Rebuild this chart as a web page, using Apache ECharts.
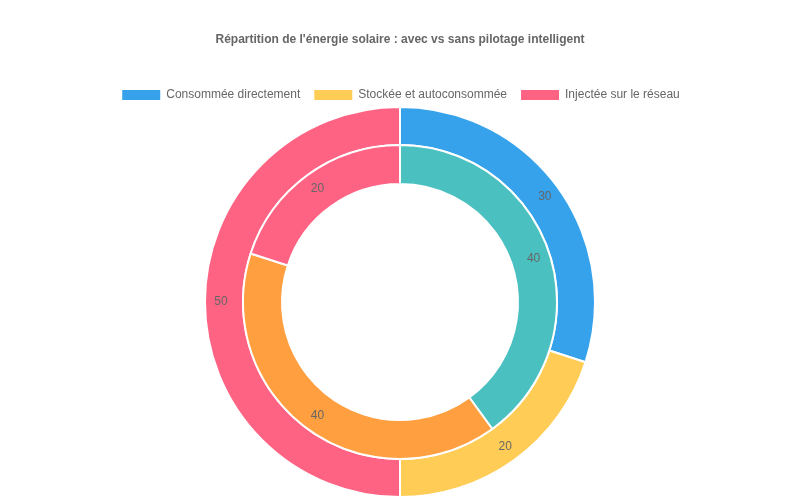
<!DOCTYPE html>
<html><head><meta charset="utf-8">
<script src="https://cdn.jsdelivr.net/npm/echarts@6/dist/echarts.min.js"></script>
<style>html,body{margin:0;padding:0;background:#fff}#c{width:800px;height:500px}</style>
</head><body><div id="c"></div>
<script>
const categories = ['Consommée directement', 'Stockée et autoconsommée', 'Injectée sur le réseau'];
const sansPilotage = [30, 20, 50];
const avecPilotage = [40, 40, 20];
const outerColors = ['#36A2EB', '#FFCD56', '#FF6384'];
const innerColors = ['#4BC0C0', '#FF9F40', '#FF6384'];

const chart = echarts.init(document.getElementById('c'));
const lbl = {show: true, position: 'inside', color: '#666', fontSize: 12, fontFamily: 'Liberation Sans, Arial', formatter: '{c}'};
chart.setOption({
  animation: false,
  title: {text: "Répartition de l'énergie solaire : avec vs sans pilotage intelligent", left: 'center', top: 29,
    textStyle: {fontSize: 12, fontWeight: 'bold', color: '#666', fontFamily: 'Liberation Sans, Arial'}},
  legend: {top: 83, left: 'center', itemWidth: 40, itemHeight: 12, itemGap: 12, icon: 'rect',
    textStyle: {color: '#666', fontSize: 12, fontFamily: 'Liberation Sans, Arial'},
    data: categories},
  color: outerColors,
  series: [
    {type: 'pie', center: [400, 302], radius: [157, 195], startAngle: 90, clockwise: true,
     itemStyle: {borderColor: '#fff', borderWidth: 2}, label: lbl, labelLine: {show: false},
     emphasis: {disabled: true},
     data: categories.map((n, i) => ({name: n, value: sansPilotage[i], itemStyle: {color: outerColors[i]}}))},
    {type: 'pie', center: [400, 302], radius: [118, 157], startAngle: 90, clockwise: true,
     itemStyle: {borderColor: '#fff', borderWidth: 2}, label: lbl, labelLine: {show: false},
     emphasis: {disabled: true},
     data: categories.map((n, i) => ({name: n, value: avecPilotage[i], itemStyle: {color: innerColors[i]}}))}
  ]
});
</script></body></html>
